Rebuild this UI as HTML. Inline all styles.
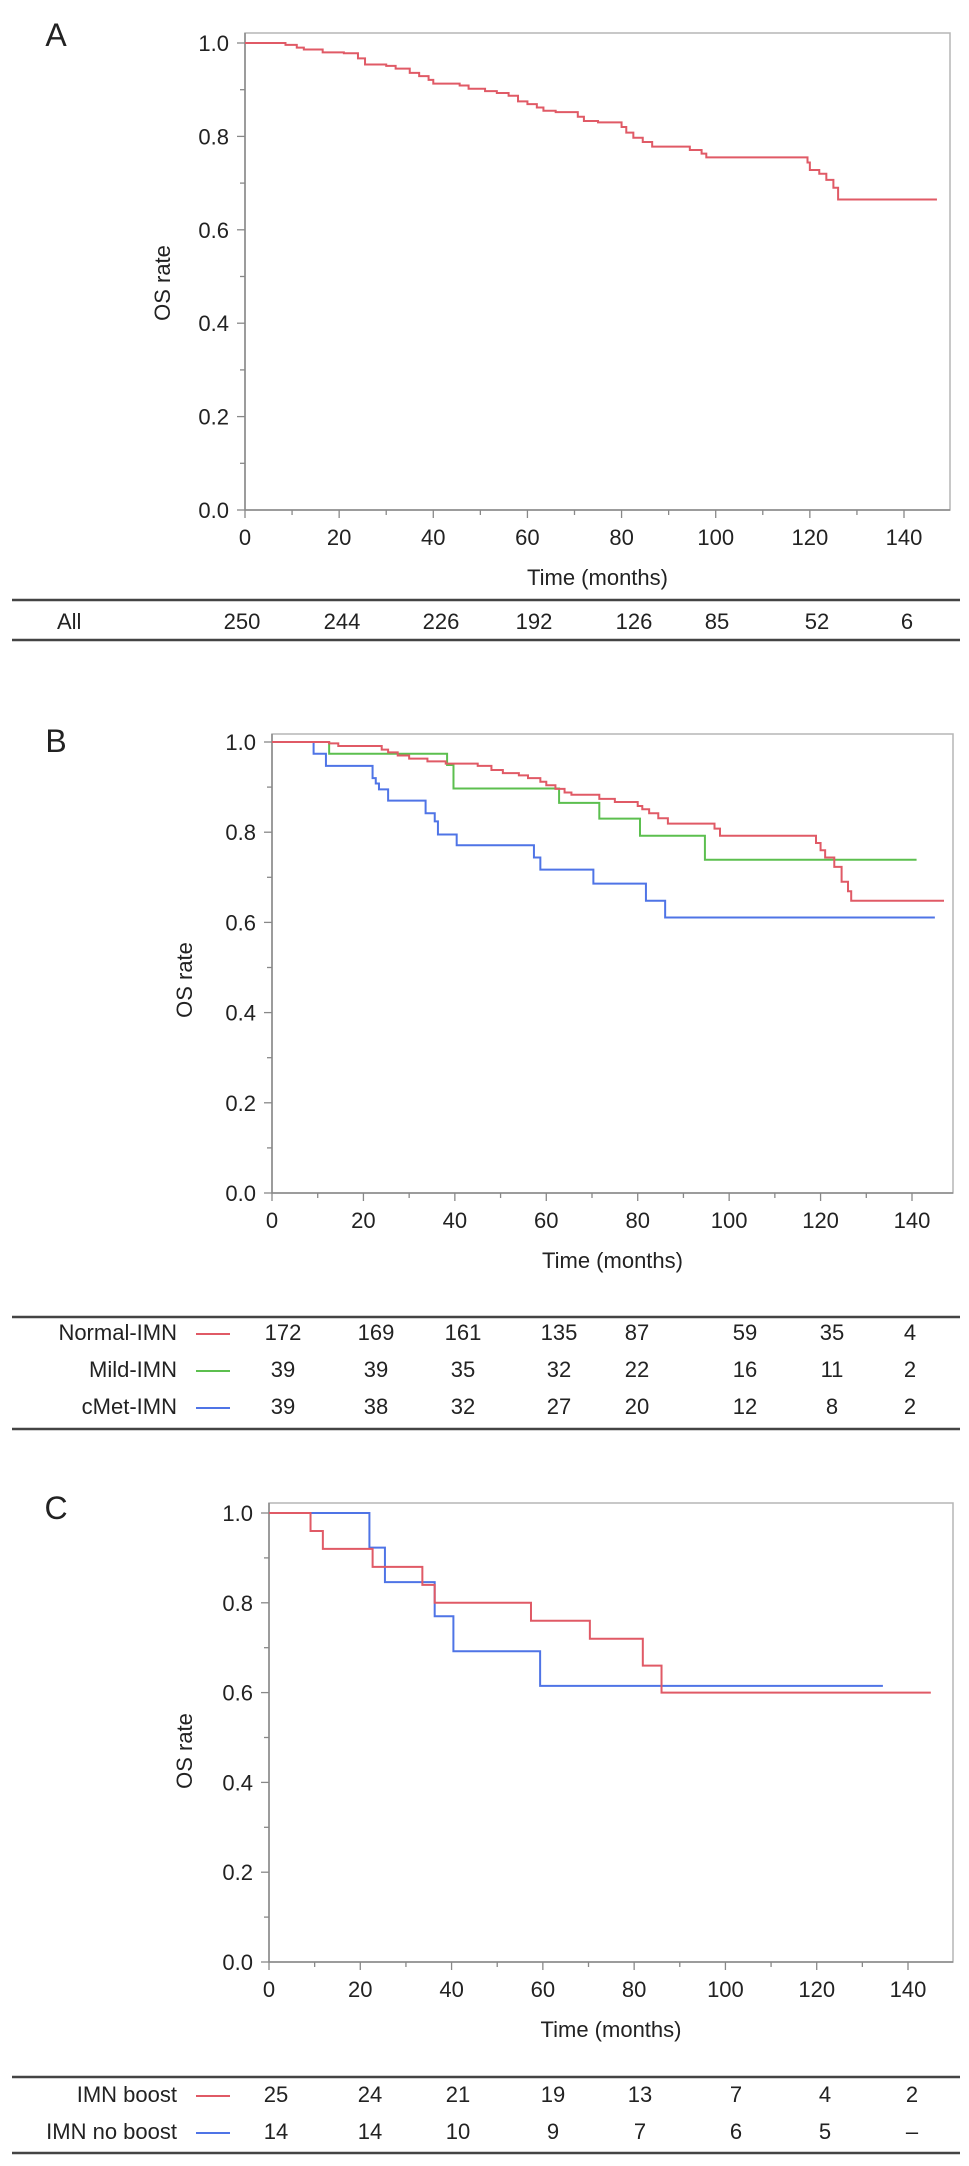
<!DOCTYPE html>
<html><head><meta charset="utf-8">
<style>
html,body{margin:0;padding:0;background:#fff;}
svg{display:block;font-family:"Liberation Sans",Arial,sans-serif;}
</style></head>
<body>
<svg id="fig" width="969" height="2166" viewBox="0 0 969 2166"></svg>
<script>
// ---------- Data ----------
const xTicks = [0,20,40,60,80,100,120,140];
const yTicks = [0.0,0.2,0.4,0.6,0.8,1.0];

// Panel A: all patients
const aTimes = [0,8.6,11,12.5,16.5,21,24,25.5,30,32,35,37,39,40,45.6,47.5,51,53.5,56,58,60,62,63.4,66,70.7,72,75,80,81,82.5,84.5,86.5,94.5,97,98,119.5,120,122,123.5,125,126,147];
const aSurv  = [1,0.996,0.99,0.986,0.98,0.978,0.967,0.954,0.951,0.945,0.936,0.929,0.921,0.913,0.909,0.902,0.897,0.893,0.887,0.875,0.869,0.862,0.855,0.852,0.842,0.833,0.83,0.82,0.808,0.797,0.788,0.778,0.771,0.763,0.755,0.744,0.728,0.72,0.707,0.69,0.665,0.665];

// Panel B
const bNormalTimes = [0,12.5,14.5,24,25.4,27.5,30,34,38,45,48,50.5,54,56,58.7,60,62,64,65.5,71.6,75,80,81,82.5,84.5,86.6,96.8,98,119,120,121,123,124.6,126,126.7,147];
const bNormalSurv  = [1,0.997,0.991,0.983,0.977,0.97,0.963,0.957,0.952,0.947,0.938,0.931,0.926,0.92,0.912,0.904,0.896,0.888,0.883,0.874,0.867,0.858,0.851,0.842,0.831,0.819,0.808,0.792,0.776,0.76,0.744,0.723,0.69,0.669,0.648,0.648];
const bMildTimes = [0,12.5,38.3,39.7,62.8,71.6,80.5,94.7,141];
const bMildSurv  = [1,0.974,0.949,0.897,0.865,0.83,0.792,0.739,0.739];
const bCmetTimes = [0,9.1,11.8,22,22.7,23.4,25.4,33.6,35.6,36.3,40.4,57.3,58.7,70.3,81.8,86,145];
const bCmetSurv  = [1,0.974,0.947,0.92,0.908,0.895,0.87,0.842,0.824,0.795,0.771,0.744,0.717,0.686,0.648,0.611,0.611];

// Panel C
const cBoostTimes = [0,9.1,11.8,22.7,33.6,36.3,57.4,70.3,81.9,86,145];
const cBoostSurv  = [1,0.96,0.92,0.88,0.84,0.80,0.76,0.72,0.66,0.60,0.60];
const cNoBoostTimes = [0,22,25.4,36.3,40.4,59.4,134.5];
const cNoBoostSurv  = [1,0.923,0.846,0.77,0.692,0.615,0.615];

// Risk tables
const aRiskLabels = ["All"];
const aRisk = [[250,244,226,192,126,85,52,6]];
const bRiskLabels = ["Normal-IMN","Mild-IMN","cMet-IMN"];
const bRisk = [[172,169,161,135,87,59,35,4],[39,39,35,32,22,16,11,2],[39,38,32,27,20,12,8,2]];
const cRiskLabels = ["IMN boost","IMN no boost"];
const cRisk = [[25,24,21,19,13,7,4,2],[14,14,10,9,7,6,5,"–"]];

// ---------- Drawing ----------
const NS = "http://www.w3.org/2000/svg";
const svg = document.getElementById("fig");
const RED="#e05a66", GREEN="#5cbf4f", BLUE="#4f74e6";
function mk(tag, attrs, parent){
  const e=document.createElementNS(NS,tag);
  for(const k in attrs) e.setAttribute(k,attrs[k]);
  (parent||svg).appendChild(e); return e;
}
function txt(s,x,y,size,anchor,parent){
  const t=mk("text",{x:x,y:y,"font-size":size,"text-anchor":anchor||"middle",fill:"#222"},parent);
  t.textContent=s; return t;
}

function panel(cfg){
  const g=mk("g",{});
  
  
  const xs=v=>cfg.x0+(cfg.x140-cfg.x0)*v/140;
  const ys=v=>cfg.y0-(cfg.y0-cfg.y1)*v;
  // frame
  const fr=mk("rect",{x:cfg.fl,y:cfg.ft,width:cfg.fr-cfg.fl,height:cfg.y0-cfg.ft,fill:"none",stroke:"#b5b5b5","stroke-width":1.5},g);
  
  
  mk("line",{x1:cfg.fl,y1:cfg.ft,x2:cfg.fl,y2:cfg.y0,stroke:"#888","stroke-width":1.5},g);
  mk("line",{x1:cfg.fl,y1:cfg.y0,x2:cfg.fr,y2:cfg.y0,stroke:"#888","stroke-width":1.5},g);
  // y ticks
  for(let i=0;i<=10;i++){
    const v=i/10, y=ys(v);
    mk("line",{x1:cfg.fl-(i%2==0?8:5),y1:y,x2:cfg.fl,y2:y,stroke:"#888","stroke-width":1.3},g);
  }
  yTicks.forEach(v=>{
    const t=txt(v.toFixed(1),cfg.fl-16,ys(v)+8,22,"end",g);
    
    
  });
  // x ticks
  for(let m=0;m<=140;m+=10){
    const x=xs(m);
    mk("line",{x1:x,y1:cfg.y0,x2:x,y2:cfg.y0+(m%20==0?8:5),stroke:"#888","stroke-width":1.3},g);
  }
  xTicks.forEach(v=>{
    const t=txt(String(v),xs(v),cfg.y0+35,22,"middle",g);
    
    
  });
  const xt=txt("Time (months)",(cfg.fl+cfg.fr)/2,cfg.y0+75,22,"middle",g);
  
  
  const yt=txt("OS rate",0,0,22,"middle",g);
  yt.setAttribute("transform","translate("+cfg.ytx+","+cfg.yty+") rotate(-90)");
  
  
  const pl=txt(cfg.letter,56,cfg.ly,32,"middle",g);
  
  
  // series
  cfg.series.forEach(s=>{
    let d="M"+xs(s.t[0])+","+ys(s.s[0]);
    for(let i=1;i<s.t.length;i++){
      d+=" H"+xs(s.t[i])+" V"+ys(s.s[i]);
    }
    const p=mk("path",{d:d,fill:"none",stroke:s.c,"stroke-width":2},g);
    
    
  });
  // risk table
  const tg=mk("g",{},g);
  
  
  mk("line",{x1:12,y1:cfg.tTop,x2:960,y2:cfg.tTop,stroke:"#444","stroke-width":2.5},tg);
  mk("line",{x1:12,y1:cfg.tBot,x2:960,y2:cfg.tBot,stroke:"#444","stroke-width":2.5},tg);
  cfg.labels.forEach((lab,r)=>{
    const y=cfg.rowY[r];
    const lt=txt(lab,cfg.labX,y+8,22,cfg.labAnchor,tg);
    
    
    if(cfg.legendColors){
      const ll=mk("line",{x1:196,y1:y+2,x2:230,y2:y+2,stroke:cfg.legendColors[r],"stroke-width":2},tg);
      
      
    }
    cfg.risk[r].forEach((v,c)=>{
      const nt=txt(String(v),cfg.cols[c],y+8,22,"middle",tg);
      
      
    });
  });
}

panel({name:"panel-a",letter:"A",ly:46,x0:245,x140:904,y0:510,y1:43,fl:245,fr:950,ft:33,ytx:170,yty:283,
  series:[{t:aTimes,s:aSurv,c:RED,name:"all-patients-curve"}],
  tTop:600,tBot:640,labels:aRiskLabels,risk:aRisk,rowY:[621],labX:57,labAnchor:"start",
  cols:[242,342,441,534,634,717,817,907]});

panel({name:"panel-b",letter:"B",ly:752,x0:272,x140:912,y0:1193,y1:742,fl:272,fr:953,ft:734,ytx:192,yty:980,
  series:[{t:bMildTimes,s:bMildSurv,c:GREEN,name:"mild-imn-curve"},
          {t:bCmetTimes,s:bCmetSurv,c:BLUE,name:"cmet-imn-curve"},
          {t:bNormalTimes,s:bNormalSurv,c:RED,name:"normal-imn-curve"}],
  tTop:1317,tBot:1429,labels:bRiskLabels,risk:bRisk,rowY:[1332,1369,1406],labX:177,labAnchor:"end",
  legendColors:[RED,GREEN,BLUE],cols:[283,376,463,559,637,745,832,910]});

panel({name:"panel-c",letter:"C",ly:1519,x0:269,x140:908,y0:1962,y1:1513,fl:269,fr:953,ft:1503,ytx:192,yty:1751,
  series:[{t:cNoBoostTimes,s:cNoBoostSurv,c:BLUE,name:"imn-no-boost-curve"},
          {t:cBoostTimes,s:cBoostSurv,c:RED,name:"imn-boost-curve"}],
  tTop:2077,tBot:2153,labels:cRiskLabels,risk:cRisk,rowY:[2094,2131],labX:177,labAnchor:"end",
  legendColors:[RED,BLUE],cols:[276,370,458,553,640,736,825,912]});
</script>
</body></html>
